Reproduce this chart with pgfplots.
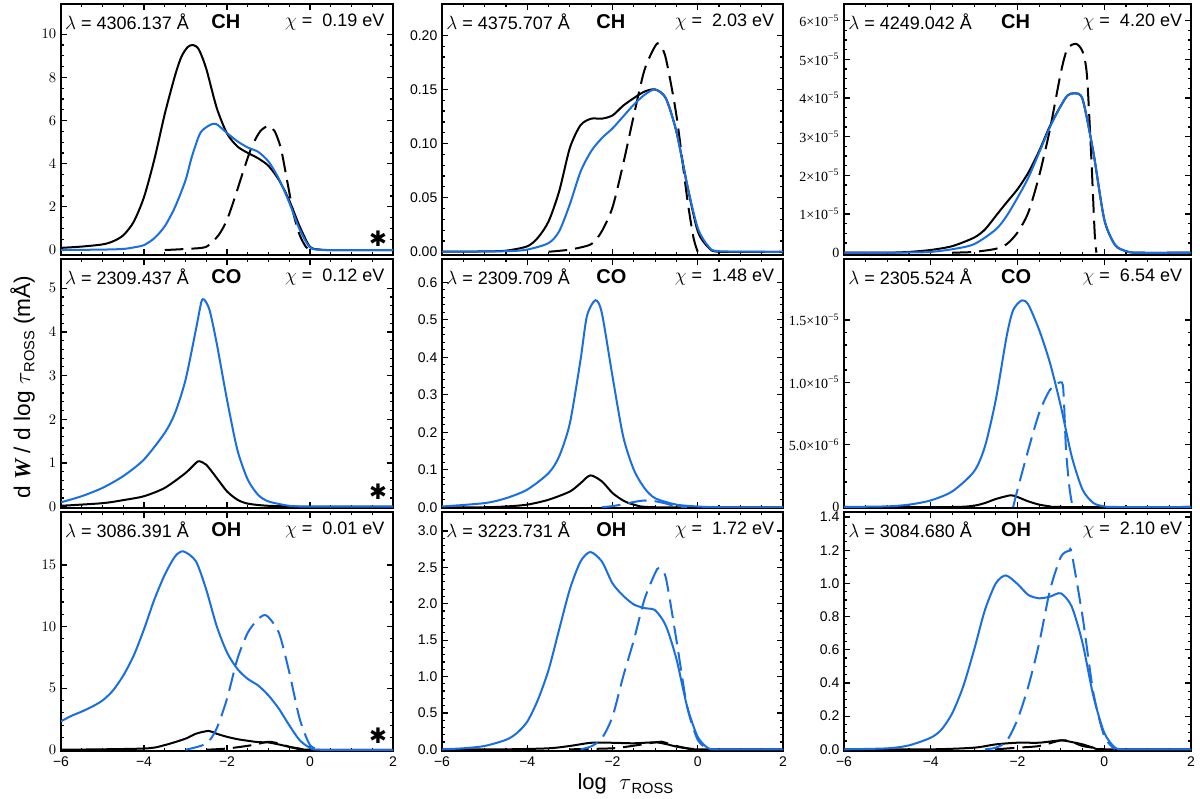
\documentclass[border=0pt]{standalone}
\usepackage{pgfplots}
\pgfplotsset{compat=1.18}
\usepackage{fontspec}
\setmainfont{Liberation Sans}
\newfontfamily\serif{Liberation Serif}
\newfontfamily\djv{DejaVu Sans}
\definecolor{idlblue}{RGB}{25,110,225}
\tikzset{ttl/.style={font=\fontsize{13.5}{15}\selectfont, inner sep=0pt, yshift=-13.5pt}}
\pgfplotsset{
 panel/.style={scale only axis, anchor=north west, xmin=-6, xmax=2,
   xtick={-6,-4,-2,0,2}, minor x tick num=3, tick align=inside,
   axis line style={line width=1.4pt},
   every tick/.append style={line width=0.9pt, black},
   major tick length=4.5pt, minor tick length=2.5pt,
   tick label style={font=\fontsize{10.5}{12}\selectfont},
   xticklabels={}, clip=true,
   every axis plot/.append style={line width=1.5pt, smooth, tension=0.45}},
 bottom/.style={xticklabels={−6,−4,−2,0,2}, xticklabel style={yshift=-1pt}},
 bk/.style={black},
 bkd/.style={black, dash pattern=on 14pt off 6pt},
 bl/.style={idlblue},
 bld/.style={idlblue, dash pattern=on 14pt off 6pt}
}
\newcommand{\titles}[3]{%
 \node[ttl, anchor=west] at (rel axis cs:0.012,1) {$\lambda$ = #1 Å};
 \node[ttl, anchor=west, font=\fontsize{15}{16}\selectfont\bfseries] at (rel axis cs:0.452,1) {#2};
 \node[ttl, anchor=east] at (rel axis cs:0.975,1) {$\chi$ =\ \ #3 eV};}
\newcommand{\asterisk}{\node[font=\djv\fontsize{16}{16}\selectfont, inner sep=0pt] at (rel axis cs:0.955,0.065) {✱};}
\begin{document}
\begin{tikzpicture}
\path[use as bounding box] (0,0) rectangle (900pt,599.25pt);
% ---------- Row 1 ----------
\begin{axis}[panel, at={(45.75pt,596.25pt)}, width=249pt, height=188.25pt,
  ymin=-0.23, ymax=11.4, ytick={0,2,4,6,8,10}, minor y tick num=3]
\addplot[bk] coordinates {(-6,0.1)(-5.5,0.16)(-5,0.26)(-4.75,0.4)(-4.5,0.68)(-4.25,1.3)(-4,2.45)(-3.75,4.2)(-3.5,6.3)(-3.25,8.1)(-3.1,8.95)(-2.95,9.4)(-2.82,9.5)(-2.68,9.3)(-2.5,8.4)(-2.25,6.6)(-2,5.4)(-1.75,4.8)(-1.5,4.5)(-1.25,4.25)(-1,3.9)(-0.75,3.25)(-0.5,2.3)(-0.25,1.1)(0,0.15)(0.25,0.02)(0.5,0)(2,0)};
\addplot[bkd] coordinates {(-3.5,0)(-3,0.05)(-2.5,0.15)(-2.2,0.7)(-2,1.4)(-1.8,2.5)(-1.6,3.7)(-1.4,4.8)(-1.2,5.5)(-1.0,5.75)(-0.85,5.5)(-0.7,4.7)(-0.55,3.2)(-0.4,1.7)(-0.25,0.7)(-0.1,0.15)(0,0)};
\addplot[bl] coordinates {(-6,0)(-5,0.02)(-4.5,0.05)(-4.25,0.12)(-4,0.23)(-3.75,0.55)(-3.5,1.1)(-3.25,2.0)(-3,3.23)(-2.85,4.3)(-2.65,5.4)(-2.45,5.75)(-2.27,5.85)(-2,5.42)(-1.75,5.04)(-1.5,4.75)(-1.25,4.55)(-1,4.1)(-0.75,3.3)(-0.5,2.2)(-0.25,0.95)(0,0.12)(0.25,0.01)(0.5,0)(2,0)};
\titles{4306.137}{CH}{0.19}
\asterisk
\end{axis}
\begin{axis}[panel, at={(331.5pt,596.25pt)}, width=255.75pt, height=188.25pt,
  ymin=-0.003, ymax=0.229, ytick={0,0.05,0.1,0.15,0.2}, yticklabels={0.00,0.05,0.10,0.15,0.20}, minor y tick num=4]
\addplot[bk] coordinates {(-6,0)(-5,0.0003)(-4.5,0.001)(-4,0.005)(-3.75,0.013)(-3.5,0.028)(-3.25,0.056)(-3,0.096)(-2.75,0.117)(-2.5,0.123)(-2.25,0.123)(-2,0.126)(-1.75,0.135)(-1.5,0.142)(-1.25,0.148)(-1,0.150)(-0.75,0.142)(-0.5,0.111)(-0.25,0.062)(0,0.019)(0.25,0.004)(0.5,0)(2,0)};
\addplot[bkd] coordinates {(-3.5,0)(-3,0.002)(-2.5,0.007)(-2.25,0.019)(-2,0.041)(-1.75,0.081)(-1.5,0.126)(-1.25,0.168)(-1,0.190)(-0.9,0.192)(-0.75,0.179)(-0.5,0.126)(-0.25,0.050)(-0.1,0.013)(0,0)};
\addplot[bl] coordinates {(-6,0)(-4.5,0.0005)(-4,0.002)(-3.5,0.008)(-3.25,0.019)(-3,0.044)(-2.75,0.074)(-2.5,0.093)(-2.25,0.105)(-2,0.114)(-1.75,0.125)(-1.5,0.136)(-1.25,0.145)(-1,0.150)(-0.75,0.142)(-0.5,0.111)(-0.25,0.062)(0,0.022)(0.25,0.005)(0.5,0.0005)(2,0)};
\titles{4375.707}{CH}{2.03}
\end{axis}
\begin{axis}[panel, at={(633pt,596.25pt)}, width=260.25pt, height=188.25pt,
  ymin=-0.06, ymax=6.43, ytick={0,1,2,3,4,5,6}, minor y tick num=3,
  yticklabel style={font=\serif\fontsize{10.5}{12}\selectfont},
  yticklabels={0,1×10\textsuperscript{−5},2×10\textsuperscript{−5},3×10\textsuperscript{−5},4×10\textsuperscript{−5},5×10\textsuperscript{−5},6×10\textsuperscript{−5}}]
\addplot[bk] coordinates {(-6,0)(-5,0)(-4.5,0.02)(-4,0.07)(-3.5,0.17)(-3,0.39)(-2.75,0.6)(-2.5,0.95)(-2.25,1.3)(-2,1.64)(-1.75,2.07)(-1.5,2.63)(-1.25,3.28)(-1,3.8)(-0.85,4.06)(-0.7,4.12)(-0.5,3.97)(-0.25,2.59)(0,0.86)(0.25,0.2)(0.5,0.04)(0.75,0)(2,0)};
\addplot[bkd] coordinates {(-3.5,0)(-3,0.02)(-2.5,0.1)(-2.25,0.22)(-2,0.52)(-1.75,1.04)(-1.5,1.99)(-1.25,3.2)(-1,4.66)(-0.85,5.27)(-0.65,5.4)(-0.5,5.2)(-0.4,4.6)(-0.3,2.5)(-0.22,0.5)(-0.18,0)};
\addplot[bl] coordinates {(-6,0)(-4.5,0.005)(-4,0.02)(-3.5,0.09)(-3,0.22)(-2.5,0.6)(-2.25,0.95)(-2,1.42)(-1.75,1.94)(-1.5,2.59)(-1.25,3.25)(-1,3.8)(-0.85,4.06)(-0.7,4.12)(-0.5,3.97)(-0.25,2.59)(0,0.86)(0.25,0.2)(0.5,0.04)(0.75,0)(2,0)};
\titles{4249.042}{CH}{4.20}
\end{axis}
% ---------- Row 2 ----------
\begin{axis}[panel, at={(45.75pt,405pt)}, width=249pt, height=186.75pt,
  ymin=-0.03, ymax=5.67, ytick={0,1,2,3,4,5}, minor y tick num=4]
\addplot[bk] coordinates {(-6,0.02)(-5,0.08)(-4.5,0.15)(-4,0.24)(-3.5,0.43)(-3,0.77)(-2.75,1.0)(-2.67,1.04)(-2.5,0.96)(-2.25,0.66)(-2,0.35)(-1.75,0.16)(-1.5,0.07)(-1,0.02)(0,0)(2,0)};
\addplot[bl] coordinates {(-6,0.1)(-5.5,0.24)(-5,0.43)(-4.5,0.7)(-4,1.08)(-3.5,1.69)(-3.25,2.15)(-3,2.9)(-2.75,4.05)(-2.62,4.68)(-2.55,4.74)(-2.42,4.5)(-2.25,3.75)(-2,2.45)(-1.75,1.3)(-1.5,0.62)(-1.25,0.27)(-1,0.12)(-0.5,0.02)(0,0)(2,0)};
\titles{2309.437}{CO}{0.12}
\asterisk
\end{axis}
\begin{axis}[panel, at={(331.5pt,405pt)}, width=255.75pt, height=186.75pt,
  ymin=-0.002, ymax=0.662, ytick={0,0.1,0.2,0.3,0.4,0.5,0.6}, yticklabels={0.0,0.1,0.2,0.3,0.4,0.5,0.6}, minor y tick num=4]
\addplot[bk] coordinates {(-6,0)(-5,0)(-4.5,0.002)(-4,0.007)(-3.5,0.02)(-3,0.042)(-2.75,0.064)(-2.52,0.085)(-2.25,0.069)(-2,0.038)(-1.75,0.018)(-1.5,0.007)(-1,0)(2,0)};
\addplot[bl] coordinates {(-6,0.002)(-5,0.011)(-4.5,0.024)(-4,0.047)(-3.5,0.091)(-3.25,0.136)(-3,0.224)(-2.75,0.393)(-2.6,0.51)(-2.4,0.552)(-2.25,0.518)(-2,0.349)(-1.75,0.189)(-1.5,0.1)(-1.25,0.051)(-1,0.024)(-0.5,0.007)(0,0.002)(0.5,0)(2,0)};
\addplot[bld] coordinates {(-2.25,0)(-2,0.003)(-1.75,0.008)(-1.5,0.014)(-1.25,0.018)(-1,0.016)(-0.75,0.01)(-0.5,0.002)(-0.25,0)};
\titles{2309.709}{CO}{1.48}
\end{axis}
\begin{axis}[panel, at={(633pt,405pt)}, width=260.25pt, height=186.75pt,
  ymin=-0.008, ymax=1.99, ytick={0,0.5,1,1.5}, minor y tick num=4,
  yticklabel style={font=\serif\fontsize{10.5}{12}\selectfont},
  yticklabels={0,5.0×10\textsuperscript{−6},1.0×10\textsuperscript{−5},1.5×10\textsuperscript{−5}}]
\addplot[bk] coordinates {(-6,0)(-3.5,0)(-3,0.011)(-2.75,0.032)(-2.5,0.064)(-2.16,0.094)(-2,0.08)(-1.75,0.045)(-1.5,0.019)(-1.25,0.005)(-1,0)(2,0)};
\addplot[bl] coordinates {(-6,0)(-5,0.005)(-4.5,0.019)(-4,0.053)(-3.5,0.126)(-3,0.286)(-2.75,0.487)(-2.5,0.861)(-2.25,1.37)(-2.1,1.58)(-1.9,1.658)(-1.75,1.623)(-1.5,1.42)(-1.25,1.155)(-1,0.807)(-0.75,0.406)(-0.5,0.139)(-0.25,0.032)(0,0.005)(0.25,0)(2,0)};
\addplot[bld] coordinates {(-2.1,0)(-2,0.139)(-1.75,0.46)(-1.5,0.754)(-1.25,0.94)(-0.98,1.0)(-0.93,0.85)(-0.88,0.45)(-0.8,0.15)(-0.73,0)};
\titles{2305.524}{CO}{6.54}
\end{axis}
% ---------- Row 3 ----------
\begin{axis}[panel, bottom, at={(45.75pt,215.25pt)}, width=249pt, height=179.25pt,
  ymin=-0.1, ymax=19.3, ytick={0,5,10,15}, minor y tick num=4]
\addplot[bk] coordinates {(-6,0)(-4,0.1)(-3.5,0.38)(-3,0.9)(-2.75,1.3)(-2.44,1.53)(-2.25,1.3)(-2,1.05)(-1.75,0.86)(-1.5,0.73)(-1.25,0.62)(-1,0.59)(-0.75,0.43)(-0.5,0.24)(-0.25,0.1)(0,0)(2,0)};
\addplot[bkd] coordinates {(-2.5,0)(-2,0.1)(-1.5,0.32)(-1.25,0.48)(-1,0.65)(-0.75,0.51)(-0.5,0.24)(-0.25,0.05)(0,0)};
\addplot[bl] coordinates {(-6,2.31)(-5.75,2.75)(-5.5,3.1)(-5.25,3.5)(-5,4.0)(-4.75,4.8)(-4.5,6.02)(-4.25,7.63)(-4,9.78)(-3.75,12.2)(-3.5,14.2)(-3.25,15.7)(-3.05,16.1)(-2.75,15.3)(-2.5,13.0)(-2.25,10.05)(-2,7.9)(-1.75,6.56)(-1.5,5.75)(-1.25,5.22)(-1,4.41)(-0.75,3.33)(-0.5,1.99)(-0.25,0.78)(0,0.16)(0.25,0)(2,0)};
\addplot[bld] coordinates {(-3,0)(-2.5,0.5)(-2.25,1.72)(-2,4.14)(-1.75,7.37)(-1.5,9.5)(-1.25,10.6)(-1.05,10.9)(-0.75,9.5)(-0.5,6.3)(-0.25,2.53)(0,0.38)(0.25,0)};
\titles{3086.391}{OH}{0.01}
\asterisk
\end{axis}
\begin{axis}[panel, bottom, at={(331.5pt,215.25pt)}, width=255.75pt, height=179.25pt,
  ymin=-0.023, ymax=3.26, ytick={0,0.5,1,1.5,2,2.5,3}, yticklabels={0.0,0.5,1.0,1.5,2.0,2.5,3.0}, minor y tick num=4]
\addplot[bk] coordinates {(-6,0)(-4.5,0)(-3.5,0.014)(-3,0.046)(-2.5,0.09)(-2,0.09)(-1.5,0.083)(-1,0.096)(-0.75,0.073)(-0.5,0.037)(-0.25,0.014)(0,0)(2,0)};
\addplot[bkd] coordinates {(-3,0)(-2,0.014)(-1.5,0.05)(-1,0.096)(-0.85,0.105)(-0.5,0.046)(-0.25,0.014)(0,0)};
\addplot[bl] coordinates {(-6,0)(-5.5,0.014)(-5,0.046)(-4.5,0.13)(-4.25,0.22)(-4,0.38)(-3.75,0.68)(-3.5,1.09)(-3.25,1.65)(-3,2.2)(-2.75,2.58)(-2.52,2.71)(-2.25,2.58)(-2,2.28)(-1.75,2.11)(-1.5,1.99)(-1.25,1.94)(-1,1.91)(-0.75,1.7)(-0.5,1.24)(-0.25,0.59)(0,0.17)(0.25,0.014)(0.5,0)(2,0)};
\addplot[bld] coordinates {(-2.75,0)(-2.5,0.04)(-2.25,0.15)(-2,0.45)(-1.75,1.0)(-1.5,1.5)(-1.25,2.06)(-1,2.42)(-0.91,2.49)(-0.75,2.36)(-0.5,1.5)(-0.25,0.59)(0,0.13)(0.25,0)};
\titles{3223.731}{OH}{1.72}
\end{axis}
\begin{axis}[panel, bottom, at={(633pt,215.25pt)}, width=260.25pt, height=179.25pt,
  ymin=-0.01, ymax=1.43, ytick={0,0.2,0.4,0.6,0.8,1,1.2,1.4}, yticklabels={0.0,0.2,0.4,0.6,0.8,1.0,1.2,1.4}, minor y tick num=3]
\addplot[bk] coordinates {(-6,0)(-4,0)(-3,0.01)(-2.5,0.03)(-2,0.04)(-1.5,0.04)(-1,0.054)(-0.75,0.044)(-0.5,0.03)(-0.25,0.01)(0,0)(2,0)};
\addplot[bkd] coordinates {(-2.5,0)(-2,0.01)(-1.5,0.02)(-1,0.054)(-0.75,0.046)(-0.5,0.02)(0,0)};
\addplot[bl] coordinates {(-6,0)(-5,0.006)(-4.5,0.024)(-4,0.07)(-3.75,0.12)(-3.5,0.22)(-3.25,0.38)(-3,0.6)(-2.75,0.84)(-2.5,1.0)(-2.27,1.048)(-2,0.996)(-1.75,0.93)(-1.5,0.91)(-1.25,0.92)(-1,0.94)(-0.75,0.86)(-0.5,0.64)(-0.25,0.32)(0,0.1)(0.25,0.01)(0.5,0)(2,0)};
\addplot[bld] coordinates {(-2.75,0)(-2.5,0.01)(-2.25,0.05)(-2,0.18)(-1.75,0.38)(-1.5,0.64)(-1.25,0.96)(-1,1.16)(-0.81,1.196)(-0.75,1.18)(-0.5,0.8)(-0.25,0.34)(0,0.08)(0.25,0)};
\titles{3084.680}{OH}{2.10}
\end{axis}
% ---------- Labels ----------
\node[rotate=90, font=\fontsize{17}{20}\selectfont] at (17pt,309pt)
  {d {\serif\bfseries\itshape W} / d log $\tau$\raisebox{-0.35ex}{\fontsize{11}{11}\selectfont ROSS} (mÅ)};
\node[font=\fontsize{16.5}{19}\selectfont] at (469pt,11.5pt)
  {log\ \ $\tau$\raisebox{-0.35ex}{\fontsize{11}{11}\selectfont ROSS}};
\end{tikzpicture}
\end{document}
